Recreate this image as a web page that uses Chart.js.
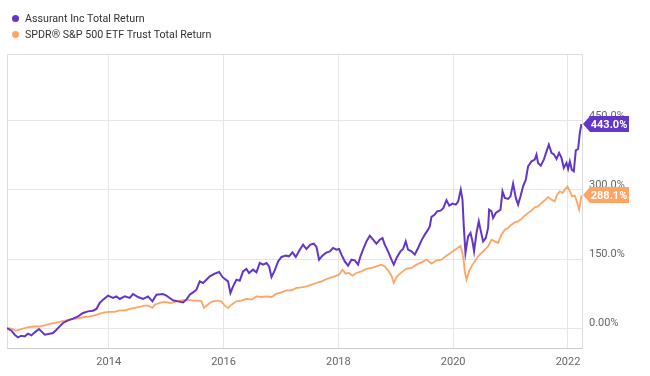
<!DOCTYPE html>
<html lang="en">
<head>
    <meta charset="UTF-8">
    <title>Assurant vs SPDR S&P 500 Total Return</title>
    <script src="https://cdn.jsdelivr.net/npm/chart.js"></script>
    <style>
        * {
            margin: 0;
            padding: 0;
            box-sizing: border-box;
        }
        body {
            background: #fff;
            font-family: Roboto, Arial, sans-serif;
        }
        #wrap {
            position: relative;
            width: 650px;
            height: 376px;
        }
        #legend {
            position: absolute;
            left: 12px;
            top: 10px;
            font-size: 10.7px;
            color: #333;
        }
        .row {
            display: flex;
            align-items: center;
            height: 16px;
        }
        .dot {
            width: 7px;
            height: 7px;
            border-radius: 50%;
            margin-right: 6px;
        }
    </style>
</head>
<body>
    <div id="wrap">
        <canvas id="myChart"></canvas>
        <div id="legend"></div>
    </div>

    <script>
        const seriesNames = ['Assurant Inc Total Return', 'SPDR® S&P 500 ETF Trust Total Return'];
        const seriesColors = ['#6236c8', '#ffa463'];

        const yearTicks = [2014, 2016, 2018, 2020, 2022];
        const returnTicks = [0, 150, 300, 450];

        // Assurant total return (%)
        const assurantYears = [
            2012.228, 2012.305, 2012.362, 2012.420, 2012.479, 2012.537, 2012.594, 2012.653, 2012.711, 2012.786,
            2012.845, 2012.885, 2012.972, 2013.030, 2013.089, 2013.146, 2013.204, 2013.291, 2013.378, 2013.465,
            2013.552, 2013.639, 2013.727, 2013.786, 2013.843, 2013.901, 2013.988, 2014.075, 2014.134, 2014.192,
            2014.279, 2014.366, 2014.423, 2014.511, 2014.598, 2014.685, 2014.761, 2014.831, 2014.946, 2015.005,
            2015.063, 2015.120, 2015.207, 2015.294, 2015.354, 2015.411, 2015.469, 2015.528, 2015.585, 2015.643,
            2015.702, 2015.760, 2015.847, 2015.922, 2015.981, 2016.038, 2016.078, 2016.120, 2016.166, 2016.225,
            2016.282, 2016.340, 2016.399, 2016.444, 2016.514, 2016.573, 2016.631, 2016.688, 2016.748, 2016.793,
            2016.835, 2016.892, 2016.950, 2017.009, 2017.084, 2017.141, 2017.200, 2017.258, 2017.328, 2017.385,
            2017.444, 2017.514, 2017.572, 2017.619, 2017.664, 2017.723, 2017.781, 2017.850, 2017.908, 2017.967,
            2018.012, 2018.054, 2018.112, 2018.169, 2018.228, 2018.286, 2018.343, 2018.385, 2018.430, 2018.490,
            2018.547, 2018.605, 2018.664, 2018.722, 2018.768, 2018.808, 2018.866, 2018.925, 2018.965, 2019.023,
            2019.082, 2019.127, 2019.174, 2019.214, 2019.274, 2019.331, 2019.389, 2019.448, 2019.505, 2019.563,
            2019.592, 2019.622, 2019.679, 2019.719, 2019.779, 2019.828, 2019.883, 2019.932, 2019.988, 2020.046,
            2020.086, 2020.132, 2020.162, 2020.185, 2020.214, 2020.260, 2020.302, 2020.336, 2020.364, 2020.406,
            2020.446, 2020.476, 2020.521, 2020.568, 2020.608, 2020.626, 2020.668, 2020.695, 2020.742, 2020.782,
            2020.824, 2020.859, 2020.899, 2020.957, 2020.998, 2021.044, 2021.091, 2021.131, 2021.173, 2021.218,
            2021.265, 2021.305, 2021.364, 2021.422, 2021.451, 2021.479, 2021.526, 2021.579, 2021.626, 2021.666,
            2021.713, 2021.758, 2021.800, 2021.845, 2021.887, 2021.927, 2021.974, 2022.002, 2022.032, 2022.066,
            2022.101, 2022.136, 2022.176, 2022.206, 2022.235
        ];
        const assurantReturns = [
            0, -5.4, -14.1, -20.0, -16.3, -17.8, -11.9, -15.6, -9.1, -1.7,
            -9.1, -14.1, -11.9, -10.4, -3.3, 3.9, 11.3, 16.9, 20.6, 25.6,
            33.0, 36.5, 38.0, 41.7, 54.7, 61.9, 70.6, 65.6, 69.0, 63.4,
            69.0, 65.6, 74.2, 67.7, 63.4, 69.0, 58.2, 72.7, 74.2, 70.6,
            65.6, 60.4, 58.2, 56.0, 61.9, 72.7, 77.7, 83.6, 101.6, 98.1,
            105.3, 112.5, 118.3, 122.0, 111.2, 105.3, 101.6, 76.4, 90.7, 105.3,
            103.1, 123.3, 128.5, 119.8, 127.0, 121.1, 141.5, 137.9, 141.5, 134.2,
            111.2, 125.5, 145.0, 154.6, 157.4, 155.9, 164.6, 154.6, 170.4, 181.3,
            171.9, 181.3, 183.4, 176.3, 148.7, 157.4, 163.3, 166.7, 174.1, 170.4,
            171.9, 159.6, 145.0, 135.7, 148.7, 147.2, 137.9, 155.9, 170.4, 188.4,
            200.8, 192.1, 183.4, 192.1, 195.8, 181.3, 166.7, 148.7, 137.9, 154.6,
            166.7, 171.9, 188.4, 170.4, 166.7, 159.6, 174.1, 190.6, 203.0, 213.8,
            221.0, 241.4, 246.4, 253.6, 255.1, 260.5, 277.9, 265.9, 270.3, 268.1,
            274.6, 300.7, 279.0, 221.0, 163.3, 199.3, 206.7, 188.4, 166.7, 206.7,
            231.9, 213.8, 188.4, 195.8, 217.5, 257.3, 253.6, 239.2, 250.1, 253.6,
            257.3, 297.0, 282.7, 280.5, 286.1, 313.7, 282.7, 268.1, 286.1, 307.8,
            322.4, 351.3, 362.1, 365.8, 376.7, 358.7, 352.8, 365.8, 383.8, 398.4,
            380.4, 376.7, 367.3, 380.4, 369.5, 347.8, 358.7, 345.6, 362.1, 344.1,
            340.4, 386.0, 389.0, 423.8, 443.0
        ];

        // SPDR S&P 500 ETF total return (%)
        const spyYears = [
            2012.228, 2012.305, 2012.380, 2012.449, 2012.537, 2012.624, 2012.711, 2012.798, 2012.885, 2012.972,
            2013.059, 2013.146, 2013.233, 2013.320, 2013.408, 2013.495, 2013.582, 2013.669, 2013.756, 2013.843,
            2013.930, 2014.017, 2014.104, 2014.192, 2014.279, 2014.366, 2014.453, 2014.540, 2014.610, 2014.685,
            2014.761, 2014.801, 2014.889, 2014.976, 2015.063, 2015.120, 2015.237, 2015.354, 2015.469, 2015.556,
            2015.615, 2015.660, 2015.702, 2015.760, 2015.818, 2015.905, 2015.963, 2016.021, 2016.078, 2016.138,
            2016.225, 2016.312, 2016.399, 2016.486, 2016.573, 2016.660, 2016.748, 2016.835, 2016.922, 2017.009,
            2017.096, 2017.183, 2017.270, 2017.358, 2017.445, 2017.532, 2017.619, 2017.706, 2017.793, 2017.850,
            2017.937, 2018.012, 2018.071, 2018.129, 2018.187, 2018.246, 2018.315, 2018.403, 2018.490, 2018.577,
            2018.664, 2018.751, 2018.808, 2018.866, 2018.925, 2018.965, 2019.023, 2019.100, 2019.187, 2019.274,
            2019.361, 2019.448, 2019.535, 2019.622, 2019.709, 2019.797, 2019.883, 2019.971, 2020.058, 2020.127,
            2020.159, 2020.185, 2020.202, 2020.232, 2020.277, 2020.319, 2020.376, 2020.434, 2020.493, 2020.551,
            2020.608, 2020.668, 2020.725, 2020.782, 2020.842, 2020.899, 2020.957, 2021.016, 2021.073, 2021.131,
            2021.190, 2021.248, 2021.305, 2021.364, 2021.422, 2021.479, 2021.538, 2021.596, 2021.653, 2021.713,
            2021.770, 2021.810, 2021.857, 2021.904, 2021.944, 2021.991, 2022.032, 2022.072, 2022.119, 2022.159,
            2022.194, 2022.235
        ];
        const spyReturns = [
            0, -1.1, -5.4, -3.3, 0.4, 2.6, 3.9, 3.9, 6.1, 9.1,
            11.3, 13.5, 16.3, 18.5, 20.0, 22.1, 24.3, 25.6, 27.8, 31.5,
            34.3, 35.2, 35.2, 38.6, 38.6, 41.7, 43.9, 46.0, 48.8, 48.8,
            43.9, 51.0, 54.7, 56.9, 54.7, 56.0, 59.7, 61.9, 59.7, 59.7,
            58.2, 43.9, 48.8, 54.7, 58.2, 59.7, 58.2, 48.8, 43.9, 51.0,
            58.2, 59.7, 63.4, 61.9, 69.0, 67.7, 69.0, 67.7, 74.9, 77.7,
            82.1, 82.1, 87.3, 88.6, 90.7, 94.4, 98.1, 101.6, 106.8, 109.0,
            112.5, 116.1, 127.0, 118.3, 119.8, 114.0, 119.8, 123.3, 128.5, 130.7,
            134.2, 137.9, 134.2, 125.5, 114.0, 98.1, 112.5, 121.1, 129.2, 130.7,
            137.9, 142.9, 148.7, 140.0, 147.2, 148.7, 157.4, 165.0, 172.6, 178.5,
            163.9, 144.4, 122.7, 105.3, 123.7, 134.2, 145.0, 155.9, 163.3, 170.4,
            177.6, 192.1, 188.4, 185.0, 203.0, 213.8, 217.5, 224.7, 229.7, 231.9,
            237.1, 244.2, 250.1, 255.1, 262.3, 264.4, 271.8, 277.5, 284.8, 279.0,
            275.3, 289.8, 297.0, 293.5, 300.7, 307.8, 297.0, 286.1, 287.7, 273.1,
            257.3, 288.1
        ];

        const toPoints = (xs, ys) => xs.map((x, i) => ({ x: x, y: ys[i] }));

        // html legend, two rows stacked
        document.getElementById('legend').innerHTML = seriesNames.map((name, i) =>
            `<div class="row"><span class="dot" style="background:${seriesColors[i]}"></span>${name}</div>`
        ).join('');

        // light frame on top and left of the plot area
        const framePlugin = {
            id: 'frame',
            beforeDatasetsDraw(chart) {
                const { ctx, chartArea: a } = chart;
                ctx.save();
                ctx.strokeStyle = '#dddddd';
                ctx.lineWidth = 1;
                ctx.beginPath();
                ctx.moveTo(a.left + 0.5, a.bottom);
                ctx.lineTo(a.left + 0.5, a.top + 0.5);
                ctx.lineTo(a.right, a.top + 0.5);
                ctx.stroke();
                ctx.restore();
            }
        };

        // last value tags on the right axis
        const badgePlugin = {
            id: 'endBadges',
            afterDraw(chart) {
                const ctx = chart.ctx;
                const x = chart.chartArea.right + 1;
                chart.data.datasets.forEach(ds => {
                    const last = ds.data[ds.data.length - 1].y;
                    const y = Math.round(chart.scales.y.getPixelForValue(last));
                    ctx.save();
                    ctx.fillStyle = ds.borderColor;
                    ctx.beginPath();
                    ctx.moveTo(x, y);
                    ctx.lineTo(x + 7, y - 8);
                    ctx.lineTo(x + 46, y - 8);
                    ctx.lineTo(x + 46, y + 8);
                    ctx.lineTo(x + 7, y + 8);
                    ctx.closePath();
                    ctx.fill();
                    ctx.fillStyle = '#fff';
                    ctx.font = 'bold 11px Roboto';
                    ctx.textAlign = 'center';
                    ctx.textBaseline = 'middle';
                    ctx.fillText(last.toFixed(1) + '%', x + 26, y + 1);
                    ctx.restore();
                });
            }
        };

        const ctx = document.getElementById('myChart').getContext('2d');
        const chart = new Chart(ctx, {
            type: 'line',
            data: {
                datasets: [
                    { label: seriesNames[0], data: toPoints(assurantYears, assurantReturns), borderColor: seriesColors[0], borderWidth: 2, pointRadius: 0, tension: 0 },
                    { label: seriesNames[1], data: toPoints(spyYears, spyReturns), borderColor: seriesColors[1], borderWidth: 1.8, pointRadius: 0, tension: 0 }
                ]
            },
            options: {
                responsive: true,
                maintainAspectRatio: false,
                animation: false,
                layout: { padding: { top: 54, left: 7, right: 0, bottom: 0 } },
                scales: {
                    x: {
                        type: 'linear',
                        min: 2012.228,
                        max: 2022.244,
                        afterBuildTicks: axis => { axis.ticks = yearTicks.map(v => ({ value: v })); },
                        afterFit: axis => { axis.height = 28; },
                        grid: { color: '#e6e6e6', drawTicks: false },
                        border: { color: '#cccccc' },
                        ticks: {
                            color: '#666',
                            padding: 8,
                            maxRotation: 0,
                            font: { family: 'Roboto', size: 11 },
                            callback: v => String(v)
                        }
                    },
                    y: {
                        position: 'right',
                        min: -43,
                        max: 595,
                        afterBuildTicks: axis => { axis.ticks = returnTicks.map(v => ({ value: v })); },
                        afterFit: axis => { axis.width = 68; },
                        grid: { color: '#e6e6e6', drawTicks: false },
                        border: { color: '#dddddd' },
                        ticks: {
                            color: '#666',
                            padding: 7,
                            labelOffset: -5,
                            font: { family: 'Roboto', size: 11 },
                            callback: v => v === 0 ? '0.00%' : v.toFixed(1) + '%'
                        }
                    }
                },
                plugins: {
                    legend: { display: false },
                    tooltip: { enabled: false }
                }
            },
            plugins: [framePlugin, badgePlugin]
        });
    </script>
</body>
</html>
